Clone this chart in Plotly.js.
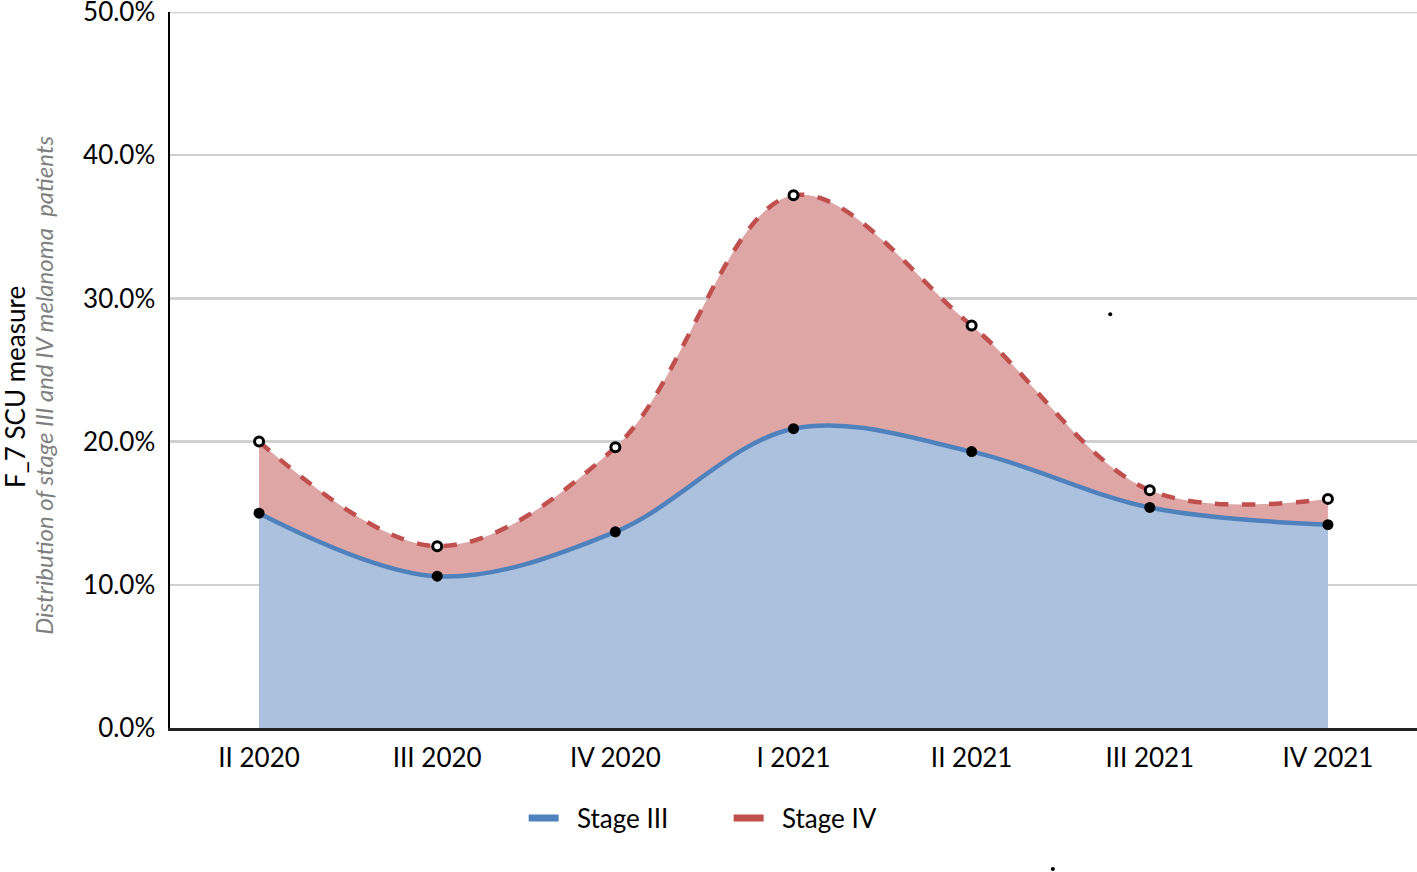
<!DOCTYPE html>
<html>
<head>
<meta charset="utf-8">
<script src="https://cdn.plot.ly/plotly-3.0.1.min.js"></script>
<style>html,body{margin:0;padding:0;background:#fff;}#chart{width:1417px;height:872px;}</style>
</head>
<body>
<div id="chart"></div>
<script>
const categories = ["II 2020", "III 2020", "IV 2020", "I 2021", "II 2021", "III 2021", "IV 2021"];
const stageIII = [0.150, 0.106, 0.137, 0.209, 0.193, 0.154, 0.142];
const stageIV  = [0.200, 0.127, 0.196, 0.372, 0.281, 0.166, 0.160];
const yTicks = [0, 0.1, 0.2, 0.3, 0.4, 0.5];
const yTickLabels = ["0.0%", "10.0%", "20.0%", "30.0%", "40.0%", "50.0%"];
const yMax = 0.5;

const blue = "#4F81BD", blueFill = "rgba(171,193,222,1)";
const red = "#C0504D", redFill = "rgba(222,166,165,1)";

const traces = [
  {x: categories, y: stageIV, type: "scatter", mode: "lines", fill: "tozeroy",
   fillcolor: redFill, line: {color: red, width: 4.5, dash: "dash", shape: "spline", smoothing: 1},
   showlegend: false, hoverinfo: "skip"},
  {x: categories, y: stageIII, type: "scatter", mode: "lines", fill: "tozeroy",
   fillcolor: blueFill, line: {color: blue, width: 4.5, shape: "spline", smoothing: 1},
   showlegend: false, hoverinfo: "skip"},
  {x: categories, y: stageIV, type: "scatter", mode: "markers",
   marker: {color: "#ffffff", size: 9, line: {color: "#000", width: 3}}, showlegend: false},
  {x: categories, y: stageIII, type: "scatter", mode: "markers",
   marker: {color: "#000", size: 11}, showlegend: false},
  {x: [null], y: [null], type: "scatter", mode: "lines", name: "\u00a0\u00a0Stage III",
   line: {color: blue, width: 7}},
  {x: [null], y: [null], type: "scatter", mode: "lines", name: "\u00a0\u00a0Stage IV",
   line: {color: red, width: 7}}
];

const layout = {
  width: 1417, height: 872,
  margin: {l: 170, r: 0, t: 12, b: 144},
  paper_bgcolor: "#fff", plot_bgcolor: "#fff",
  font: {family: "Lato, Open Sans, sans-serif", color: "#000", size: 26},
  xaxis: {
    type: "category", range: [-0.5, 6.5], showgrid: false, zeroline: false,
    showline: true, linecolor: "#222", linewidth: 2.5, ticks: "",
    tickfont: {size: 26, color: "#000"}, ticklabelstandoff: 5
  },
  yaxis: {
    range: [0, yMax], tickvals: yTicks, ticktext: yTickLabels,
    showgrid: true, gridcolor: "#d0d0d0", gridwidth: 2.5, zeroline: false,
    showline: true, linecolor: "#000", linewidth: 2.5, ticks: "",
    tickfont: {size: 26, color: "#000"}, ticklabelstandoff: 7,
    ticklabeloverflow: "allow"
  },
  showlegend: true,
  legend: {orientation: "h", x: 0.448, xanchor: "center", y: -0.093, yanchor: "top",
    font: {size: 26, color: "#000"}, itemwidth: 30, entrywidth: 160, traceorder: "normal"},
  annotations: [
    {text: "F_7 SCU measure", xref: "paper", yref: "paper", x: -0.1245, y: 0.476,
     xanchor: "center", yanchor: "middle", textangle: -90, showarrow: false,
     font: {size: 26, color: "#000"}},
    {text: "<i>Distribution of stage III and IV melanoma  patients</i>", xref: "paper", yref: "paper",
     x: -0.101, y: 0.478, xanchor: "center", yanchor: "middle", textangle: -90, showarrow: false,
     font: {size: 24, color: "#7f7f7f"}}
  ],
  shapes: [
    {type: "line", xref: "paper", yref: "y", x0: 0, x1: 1, y0: yMax, y1: yMax,
     line: {color: "#d0d0d0", width: 2.5}, layer: "below"},
    {type: "circle", xref: "paper", yref: "paper", xsizemode: "pixel", ysizemode: "pixel",
     xanchor: 0.754, yanchor: 0.578, x0: -2, x1: 2, y0: -2, y1: 2, fillcolor: "#000", line: {width: 0}},
    {type: "circle", xref: "paper", yref: "paper", xsizemode: "pixel", ysizemode: "pixel",
     xanchor: 0.708, yanchor: -0.197, x0: -2, x1: 2, y0: -2, y1: 2, fillcolor: "#000", line: {width: 0}}
  ]
};

Plotly.newPlot("chart", traces, layout, {displayModeBar: false, staticPlot: true});
</script>
</body>
</html>
